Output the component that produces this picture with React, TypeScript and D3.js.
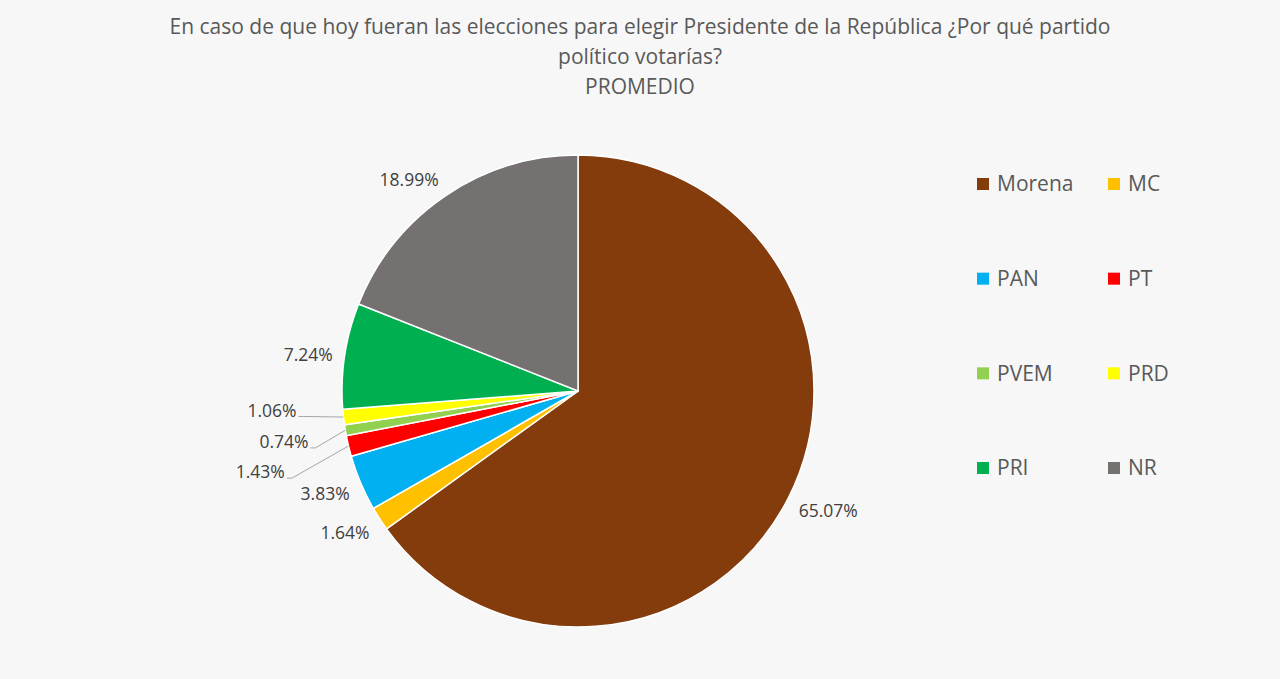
import { useEffect, useRef } from 'react'
import * as d3 from 'd3'

const parties = ['Morena', 'MC', 'PAN', 'PT', 'PVEM', 'PRD', 'PRI', 'NR']
const shares = [65.07, 1.64, 3.83, 1.43, 0.74, 1.06, 7.24, 18.99]
const colors = ['#843C0C', '#FFC000', '#00B0F0', '#FF0000', '#92D050', '#FFFF00', '#00B050', '#767171']
const titleLines = [
  'En caso de que hoy fueran las elecciones para elegir Presidente de la República ¿Por qué partido',
  'político votarías?',
  'PROMEDIO',
]

// crowded labels get pushed aside and get a leader line
const labelNudge: Record<string, [number, number]> = {
  PT: [-52, 19],
  PVEM: [-25, 6],
  PRD: [-35, -11],
}

const W = 1280
const H = 679

export default function App() {
  const svgRef = useRef<SVGSVGElement>(null)

  useEffect(() => {
    if (!svgRef.current) return
    const svg = d3.select(svgRef.current)
    svg.selectAll('*').remove()

    svg.append('rect').attr('width', W).attr('height', H).attr('fill', '#F7F7F7')

    const font = '"Open Sans", "Noto Sans", sans-serif'

    svg.append('g')
      .selectAll('text')
      .data(titleLines)
      .join('text')
      .attr('x', 640)
      .attr('y', (_, i) => 34 + i * 30)
      .attr('text-anchor', 'middle')
      .attr('font-family', font)
      .attr('font-size', 21)
      .attr('fill', '#595959')
      .text(d => d)

    const cx = 578
    const cy = 391
    const r = 236
    const gap = 12

    const data = parties.map((p, i) => ({ party: p, value: shares[i], color: colors[i] }))
    const pie = d3.pie<typeof data[number]>().value(d => d.value).sort(null)
    const arcs = pie(data)
    const arc = d3.arc<d3.PieArcDatum<typeof data[number]>>().innerRadius(0).outerRadius(r)

    const g = svg.append('g').attr('transform', `translate(${cx},${cy})`)
    g.selectAll('path')
      .data(arcs)
      .join('path')
      .attr('d', arc)
      .attr('fill', d => d.data.color)
      .attr('stroke', '#FFFFFF')
      .attr('stroke-width', 1.5)

    arcs.forEach(d => {
      const a = (d.startAngle + d.endAngle) / 2
      const sx = Math.sin(a)
      const sy = -Math.cos(a)
      const t = g.append('text')
        .attr('dy', '0.35em')
        .attr('text-anchor', 'middle')
        .attr('font-family', font)
        .attr('font-size', 17.5)
        .attr('fill', '#404040')
        .text(d3.format('.2f')(d.value) + '%')
      const w = (t.node() as SVGTextElement).getComputedTextLength()
      let lx = sx * (r + gap) + Math.sign(sx) * w / 2
      let ly = sy * (r + gap) + sy * 10 + 2
      const nudge = labelNudge[d.data.party]
      if (nudge) {
        lx += nudge[0]
        ly += nudge[1]
        const ex = sx * r
        const ey = sy * r
        const x0 = lx + w / 2 + 2
        const y0 = ly + 6
        g.append('path')
          .attr('d', `M${x0},${y0}H${x0 + 5}L${ex},${ey}`)
          .attr('fill', 'none')
          .attr('stroke', '#A6A6A6')
          .attr('stroke-width', 1)
      }
      t.attr('x', lx).attr('y', ly)
    })

    const legend = svg.append('g')
    const cols = [977, 1108]
    const rowY = d3.scaleLinear().domain([0, 3]).range([184, 468])
    data.forEach((d, i) => {
      const x = cols[i % 2]
      const y = rowY(Math.floor(i / 2))
      legend.append('rect')
        .attr('x', x)
        .attr('y', y - 6)
        .attr('width', 12)
        .attr('height', 12)
        .attr('fill', d.color)
      legend.append('text')
        .attr('x', x + 20)
        .attr('y', y)
        .attr('dy', '0.35em')
        .attr('font-family', font)
        .attr('font-size', 21)
        .attr('fill', '#595959')
        .text(d.party)
    })
  }, [])

  return (
    <svg
      ref={svgRef}
      width={W}
      height={H}
      style={{ position: 'fixed', left: 0, top: 0, display: 'block' }}
    />
  )
}
